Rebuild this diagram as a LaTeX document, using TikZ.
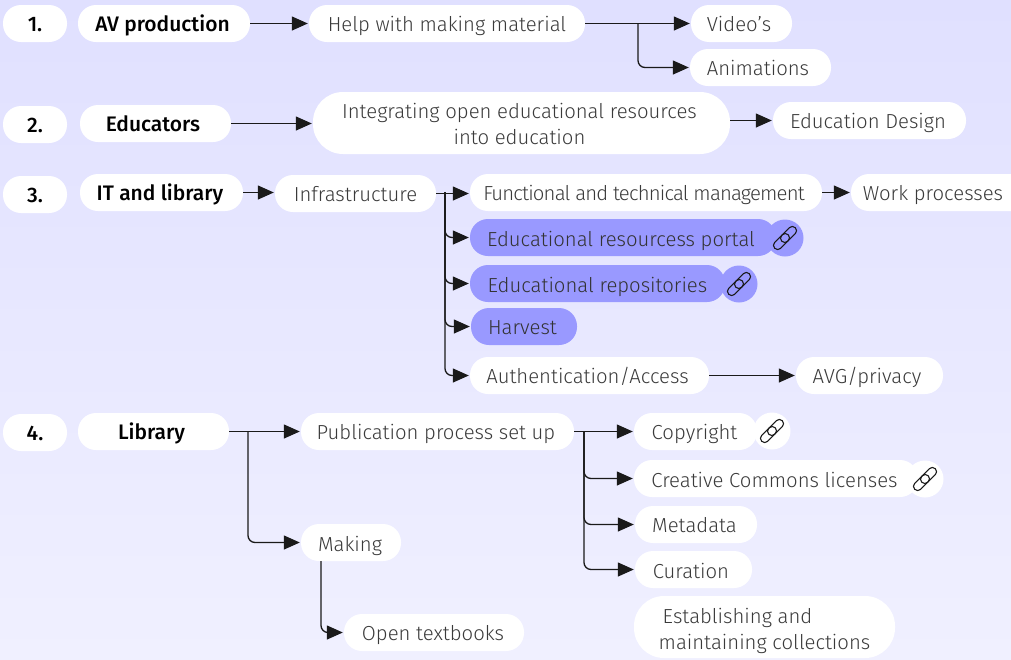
\documentclass[tikz,border=0pt]{standalone}
\usepackage{fontspec}
\setmainfont{Fira Sans Light}[BoldFont={Fira Sans Medium}]
\usetikzlibrary{arrows.meta}
\definecolor{ink}{HTML}{3A3A3A}
\definecolor{lineink}{HTML}{1A1A1A}
\definecolor{hl}{HTML}{9999FF}
\tikzset{
  pillbox/.style={draw=none,fill=white,rounded corners=18pt,inner sep=0pt,text=ink,align=center,text height=17.5pt,text depth=2.5pt,font=\fontsize{20.3}{25.5}\selectfont},
  lowtext/.style={text height=19.5pt},
  tallbox/.style={pillbox,rounded corners=30pt,text height=,text depth=},
  hlbox/.style={pillbox,fill=hl,text=black!80},
  headbox/.style={pillbox,text=black,font=\fontsize{21}{25.5}\selectfont\bfseries},
  linkdisc/.style={circle,draw=none,fill=white,minimum size=37pt,inner sep=0pt},
  hldisc/.style={linkdisc,fill=hl},
  conn/.style={draw=lineink,line width=1.3pt,shorten >=1pt,-{Triangle[length=16pt,width=14pt]}},
  trunk/.style={conn,rounded corners=7pt},
  chain/.style={draw=lineink,line width=1.1pt,rounded corners=4pt}
}
% \pill{name}{style}{x1}{y1}{x2}{y2}{text}
\newcommand{\pill}[7]{%
  \pgfmathsetmacro{\pw}{#5-#3}\pgfmathsetmacro{\ph}{#6-#4}%
  \pgfmathsetmacro{\px}{(#3+#5)/2}\pgfmathsetmacro{\py}{(#4+#6)/2}%
  \node[#2,minimum width=\pw pt,minimum height=\ph pt] (#1) at (\px,\py) {#7};}
\newcommand{\linkicon}[1]{%
  \begin{scope}[shift={(#1)},rotate=45]
    \draw[chain] (-14.5,-4.2) rectangle (4.5,4.2);
    \draw[chain] (-4.5,-4.2) rectangle (14.5,4.2);
  \end{scope}}
\begin{document}
\begin{tikzpicture}[x=1pt,y=-1pt]
\useasboundingbox (0,0) rectangle (1011,659);
\shade[top color={rgb,255:red,224;green,224;blue,255},bottom color={rgb,255:red,240;green,240;blue,255}] (0,0) rectangle (1011,659);
% row 1
\pill{n1}{headbox}{3}{5}{67}{42}{1.}
\pill{av}{headbox}{78}{5}{250}{42}{\hspace*{-3pt}AV production}
\pill{help}{pillbox}{309}{5}{585}{42}{Help with making material}
\pill{video}{pillbox}{691}{5}{792}{42}{\hspace*{-5pt}Video’s}
\pill{anim}{pillbox}{690}{49}{831}{86}{\hspace*{-5pt}Animations}
\draw[conn] (av.east) -- (av.east -| help.west);
\draw[conn] (help.east) -- (help.east -| video.west);
\coordinate (bh) at (638,24);
\draw[trunk] (bh) |- (anim.west);
% row 2
\pill{n2}{headbox}{3}{106}{67}{143}{2.}
\pill{edu}{headbox}{80}{105}{231}{142}{\hspace*{-5pt}Educators}
\pill{integ}{tallbox}{313}{92}{730}{154}{\rule{0pt}{17pt}\hspace*{-4pt}Integrating open educational resources\\\hspace*{-4pt}into education}
\pill{design}{pillbox}{773}{102}{966}{139}{\hspace*{-3pt}Education Design}
\draw[conn] (edu.east) -- (edu.east -| integ.west);
\coordinate (ie) at (730,120.5);
\draw[conn] (ie) -- (ie -| design.west);
% row 3
\pill{n3}{headbox}{3}{176}{67}{213}{3.}
\pill{it}{headbox}{80}{174}{243}{211}{\hspace*{-3pt}IT and library}
\pill{infra}{pillbox}{275}{175}{436}{212}{Infrastructure}
\pill{func}{pillbox}{470}{174}{822}{211}{\hspace*{-4pt}\addfontfeature{LetterSpace=-4}Functional and technical management}
\pill{work}{pillbox}{851}{174}{1030}{211}{\hspace*{-15pt}Work processes}
\node[hldisc] (d1) at (785,238) {};
\pill{portal}{hlbox,lowtext}{470}{219}{776}{256}{\hspace*{-4pt}Educational resourcess portal}
\node[hldisc] (d2) at (739,284) {};
\pill{repo}{hlbox,lowtext}{470}{265}{725}{302}{Educational repositories}
\pill{harv}{hlbox}{471}{308}{577}{345}{\hspace*{-3pt}Harvest}
\pill{auth}{pillbox}{470}{357}{709}{394}{\hspace*{-4pt}Authentication/Access}
\pill{avg}{pillbox}{796}{357}{943}{394}{\hspace*{-5pt}AVG/privacy}
\linkicon{d1}
\linkicon{d2}
\draw[conn] (it.east) -- (it.east -| infra.west);
\draw[conn] (infra.east) -- (infra.east -| func.west);
\draw[conn] (func.east) -- (func.east -| work.west);
\coordinate (bi) at (445,192);
\draw[trunk] (bi) |- (portal.west);
\draw[trunk] (bi) |- (repo.west);
\draw[trunk] (bi) |- (harv.west);
\draw[trunk] (bi) |- (auth.west);
\draw[conn] (auth.east) -- (auth.east -| avg.west);
% row 4
\pill{n4}{headbox}{3}{414}{67}{451}{4.}
\pill{lib}{headbox}{78}{413}{229}{450}{\hspace*{-4pt}Library}
\pill{pub}{pillbox}{301}{413}{574}{450}{\hspace*{-3pt}Publication process set up}
\pill{mak}{pillbox,lowtext}{301}{524}{401}{561}{\hspace*{-2pt}Making}
\pill{open}{pillbox}{344}{614}{524}{651}{\hspace*{-2pt}Open textbooks}
\node[linkdisc] (d3) at (772,431) {};
\pill{copy}{pillbox}{634}{413}{757}{450}{\hspace*{-2pt}Copyright}
\node[linkdisc] (d4) at (925,479) {};
\pill{cc}{pillbox,lowtext}{634}{460}{918}{497}{\hspace*{-3pt}Creative Commons licenses}
\pill{meta}{pillbox}{635}{506}{757}{543}{\hspace*{-3pt}Metadata}
\pill{cur}{pillbox,lowtext}{635}{551}{752}{588}{\hspace*{-5pt}Curation}
\pill{estab}{tallbox}{634}{596}{895}{658}{\rule{0pt}{23pt}\hspace*{2pt}Establishing and\hspace*{56pt}\\maintaining collections}
\linkicon{d3}
\linkicon{d4}
\draw[conn] (lib.east) -- (lib.east -| pub.west);
\coordinate (bl) at (248,432);
\draw[trunk] (bl) |- (mak.west);
\coordinate (bm) at (321,561);
\draw[trunk] (bm) |- (open.west);
\draw[conn] (pub.east) -- (pub.east -| copy.west);
\coordinate (bp) at (584,432);
\draw[trunk] (bp) |- (cc.west);
\draw[trunk] (bp) |- (meta.west);
\draw[trunk] (bp) |- (cur.west);
\end{tikzpicture}
\end{document}
